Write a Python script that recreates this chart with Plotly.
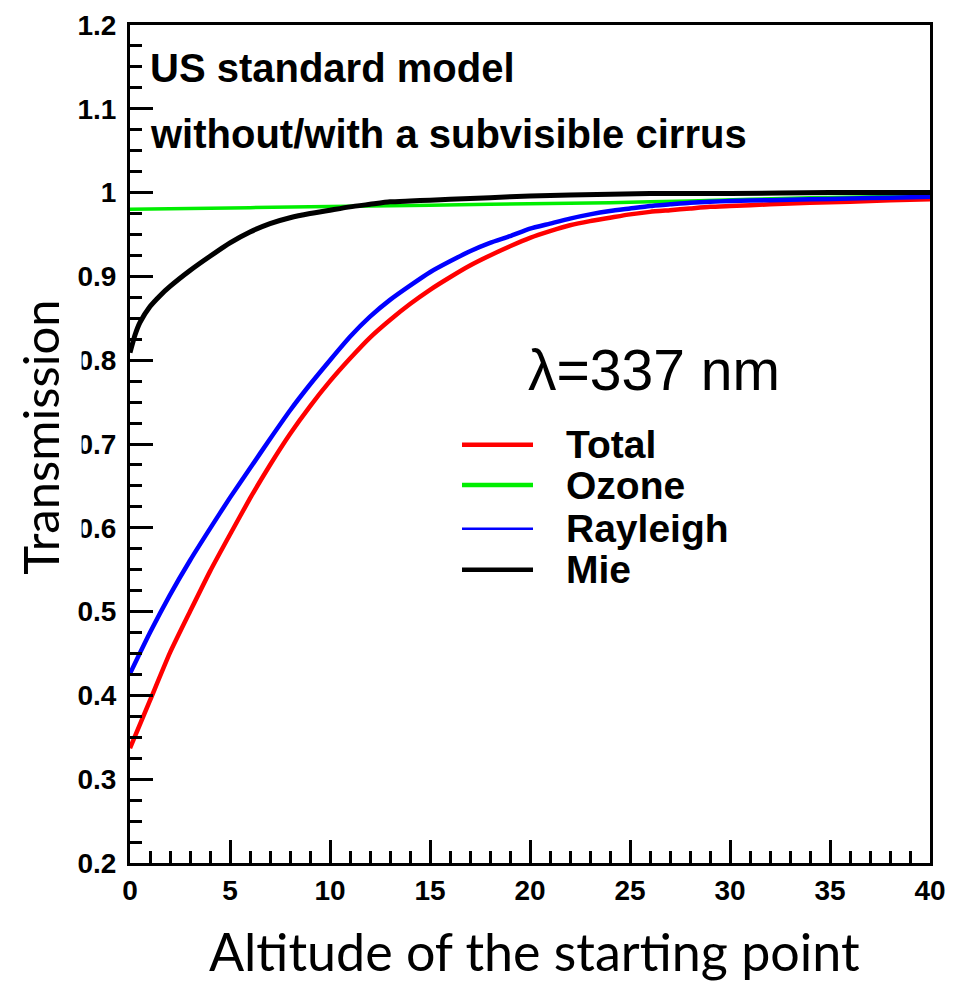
import plotly.graph_objects as go

# ---------------- data ----------------
total_x = [0, 1, 2, 3, 4, 5, 6, 7, 8, 9, 10, 11, 12, 13, 14, 15, 16, 17, 18, 19, 20,
           21, 22, 23, 24, 25, 26, 27, 28, 29, 30, 32, 34, 36, 38, 40]
total_y = [0.337, 0.394, 0.451, 0.500, 0.548, 0.592, 0.635, 0.675, 0.712, 0.745, 0.775,
           0.802, 0.827, 0.848, 0.867, 0.884, 0.899, 0.913, 0.925, 0.936, 0.946,
           0.954, 0.961, 0.966, 0.970, 0.974, 0.977, 0.979, 0.981, 0.983, 0.984,
           0.986, 0.988, 0.989, 0.991, 0.992]

rayleigh_x = [0, 1, 2, 3, 4, 5, 6, 7, 8, 9, 10, 11, 12, 13, 14, 15, 16, 17, 18, 19, 20,
              21, 22, 23, 24, 25, 26, 27, 28, 29, 30, 32, 34, 36, 38, 40]
rayleigh_y = [0.426, 0.475, 0.520, 0.561, 0.599, 0.636, 0.671, 0.706, 0.740, 0.771, 0.800,
              0.828, 0.852, 0.872, 0.889, 0.905, 0.918, 0.930, 0.940, 0.948, 0.957,
              0.963, 0.969, 0.974, 0.978, 0.981, 0.984, 0.986, 0.988, 0.989, 0.990,
              0.991, 0.992, 0.993, 0.994, 0.995]

mie_x = [0, 0.25, 0.5, 1, 1.5, 2, 3, 4, 5, 6, 7, 8, 9, 10, 11, 12, 13, 14, 15, 16, 18, 20,
         22, 26, 30, 35, 40]
mie_y = [0.809, 0.830, 0.845, 0.864, 0.877, 0.888, 0.907, 0.924, 0.940, 0.953, 0.963,
         0.970, 0.975, 0.979, 0.983, 0.986, 0.989, 0.990, 0.991, 0.992, 0.994, 0.996,
         0.997, 0.999, 0.999, 1.000, 1.000]

ozone_x = [0, 6, 12, 18, 24, 28, 34, 40]
ozone_y = [0.980, 0.982, 0.984, 0.986, 0.988, 0.990, 0.994, 0.996]

series_names = ["Total", "Ozone", "Rayleigh", "Mie"]
series_colors = ["#ff0000", "#00ee00", "#0000ff", "#000000"]

x_label = "Altitude of the starting point"
y_label = "Transmission"
header_lines = ["US standard model", "without/with a subvisible cirrus"]
wavelength_label = "λ=337 nm"

# ---------------- figure ----------------
fig = go.Figure()
series = [(total_x, total_y, 4.5), (ozone_x, ozone_y, 3.5),
          (rayleigh_x, rayleigh_y, 4.5), (mie_x, mie_y, 5)]
for (xs, ys, w), name, col in zip(series, series_names, series_colors):
    fig.add_trace(go.Scatter(x=xs, y=ys, mode="lines", name=name,
                             line=dict(color=col, width=w, shape="spline", smoothing=0.5),
                             showlegend=False))

tick_font = dict(family="Liberation Sans", size=28, color="black", weight="bold")
axis_common = dict(showgrid=False, zeroline=False, showline=True, linecolor="black",
                   linewidth=3, mirror=True, ticks="inside", tickcolor="black",
                   tickwidth=2.5, ticklen=23, tickfont=tick_font, automargin=False,
                   ticklabeloverflow="allow")

fig.update_xaxes(range=[0, 40], tick0=0, dtick=5,
                 minor=dict(ticks="inside", dtick=1, ticklen=12, tickwidth=2.5,
                            tickcolor="black"),
                 ticklabelstandoff=0, **axis_common)
fig.update_yaxes(range=[0.2, 1.2], tick0=0.2, dtick=0.1,
                 minor=dict(ticks="inside", dtick=0.025, ticklen=12, tickwidth=2.5,
                            tickcolor="black"),
                 ticklabelstandoff=5, **axis_common)

annotations = []
# header text
for i, line in enumerate(header_lines):
    annotations.append(dict(x=0.9, y=1.149 - i * 0.079, xref="x", yref="y", text=line,
                            showarrow=False, xanchor="left", yanchor="middle",
                            font=dict(family="Liberation Sans", size=40, color="black",
                                      weight="bold")))
annotations.append(dict(x=19.8, y=0.788, xref="x", yref="y", text=wavelength_label,
                        showarrow=False, xanchor="left", yanchor="middle",
                        font=dict(family="Liberation Sans", size=57, color="black")))

# manual legend
legend_rows_y = [0.699, 0.651, 0.599, 0.550]
legend_widths = [4.5, 4.5, 2.5, 4.5]
shapes = []
for name, col, yy, w in zip(series_names, series_colors, legend_rows_y, legend_widths):
    shapes.append(dict(type="line", xref="x", yref="y", x0=16.6, x1=20.15, y0=yy, y1=yy,
                       line=dict(color=col, width=w)))
    annotations.append(dict(x=21.7, y=yy, xref="x", yref="y", text=name, showarrow=False,
                            xanchor="left", yanchor="middle",
                            font=dict(family="Liberation Sans", size=39, color="black",
                                      weight="bold")))

# axis titles
annotations.append(dict(x=-0.112, y=0.508, xref="paper", yref="paper", text=y_label,
                        textangle=-90, showarrow=False, xanchor="center", yanchor="middle",
                        bgcolor="white", borderpad=12,
                        font=dict(family="Lato", size=49, color="black")))
annotations.append(dict(x=0.505, y=-0.105, xref="paper", yref="paper", text=x_label,
                        showarrow=False, xanchor="center", yanchor="middle",
                        font=dict(family="Lato", size=52, color="black")))

# the page adds an 8 px body margin, so the figure is sized to fit the window
fig.update_layout(width=958, height=975, margin=dict(l=122, r=36, t=17, b=120),
                  paper_bgcolor="white", plot_bgcolor="white",
                  annotations=annotations, shapes=shapes, showlegend=False)

fig.write_html("out.html")
